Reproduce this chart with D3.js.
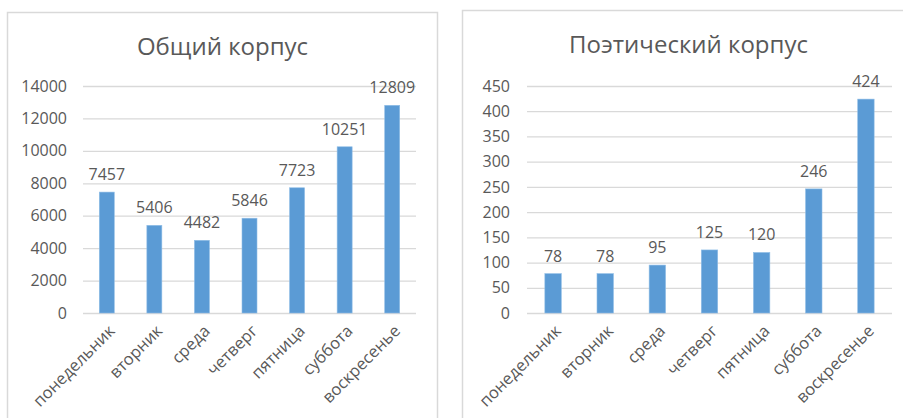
<!DOCTYPE html>
<html><head><meta charset="utf-8">
<script src="https://cdn.jsdelivr.net/npm/d3@7"></script>
<style>
html,body{margin:0;padding:0;background:#fff;}
svg{display:block;}
text{font-family:"Open Sans","Noto Sans",sans-serif;fill:#595959;}
</style></head><body>
<svg id="c" width="903" height="418"></svg>
<script>
const days = ["понедельник","вторник","среда","четверг","пятница","суббота","воскресенье"];
const generalValues = [7457,5406,4482,5846,7723,10251,12809];
const poeticValues = [78,78,95,125,120,246,424];
const generalTicks = [0,2000,4000,6000,8000,10000,12000,14000];
const poeticTicks = [0,50,100,150,200,250,300,350,400,450];
const titles = ["Общий корпус","Поэтический корпус"];

const svg = d3.select("#c");
const charts = [
  {title:titles[0], values:generalValues, ticks:generalTicks, max:14000,
   box:{x:7.5,y:12.5,w:430,h:420}, plot:{x0:83,x1:416,y0:86,y1:313}, titleX:222.5, titleY:55, labelX:67},
  {title:titles[1], values:poeticValues, ticks:poeticTicks, max:450,
   box:{x:462.5,y:10.5,w:460,h:420}, plot:{x0:527,x1:892,y0:86,y1:313}, titleX:688.5, titleY:53, labelX:510}
];

charts.forEach(c => {
  const g = svg.append("g");
  g.append("rect").attr("x",c.box.x).attr("y",c.box.y).attr("width",c.box.w).attr("height",c.box.h)
    .attr("fill","#fff").attr("stroke","#d9d9d9").attr("stroke-width",1.5);
  g.append("text").attr("x",c.titleX).attr("y",c.titleY).attr("text-anchor","middle")
    .style("font-size","24px").text(c.title);

  const x = d3.scaleBand().domain(days).range([c.plot.x0,c.plot.x1]).paddingInner(0.685).paddingOuter(0.3425);
  const y = d3.scaleLinear().domain([0,c.max]).range([c.plot.y1,c.plot.y0]);

  const grid = d3.axisLeft(y).tickValues(c.ticks).tickSize(-(c.plot.x1-c.plot.x0)).tickFormat("");
  const gg = g.append("g").attr("transform",`translate(${c.plot.x0},0)`).call(grid);
  gg.select(".domain").remove();
  gg.selectAll("line").attr("stroke","#d9d9d9").attr("stroke-width",1.3);

  const ya = d3.axisLeft(y).tickValues(c.ticks).tickSize(0).tickPadding(0).tickFormat(d3.format("d"));
  const ag = g.append("g").attr("transform",`translate(${c.labelX},0)`).call(ya);
  ag.select(".domain").remove();
  ag.selectAll("text").style("font-size","16px").attr("fill","#595959").style("font-family",'"Open Sans",sans-serif');

  g.selectAll("rect.bar").data(c.values).join("rect").attr("class","bar")
    .attr("x",(d,i)=>x(days[i])).attr("width",x.bandwidth())
    .attr("y",d=>y(d)).attr("height",d=>y(0)-y(d))
    .attr("fill","#5b9bd5").attr("stroke","#8fbde6").attr("stroke-width",0.6);

  g.selectAll("text.val").data(c.values).join("text").attr("class","val")
    .attr("x",(d,i)=>x(days[i])+x.bandwidth()/2).attr("y",d=>y(d)-12)
    .attr("text-anchor","middle").style("font-size","16px").text(d=>d);

  const xa = d3.axisBottom(x).tickSize(0).tickPadding(0);
  const xg = g.append("g").attr("transform",`translate(0,${c.plot.y1})`).call(xa);
  xg.select(".domain").remove();
  xg.selectAll("text").style("font-size","16.5px").attr("fill","#595959").style("font-family",'"Open Sans",sans-serif')
    .attr("text-anchor","end").attr("dy",0).attr("y",0)
    .attr("transform","translate(9,19) rotate(-45)");
});
</script>
</body></html>
